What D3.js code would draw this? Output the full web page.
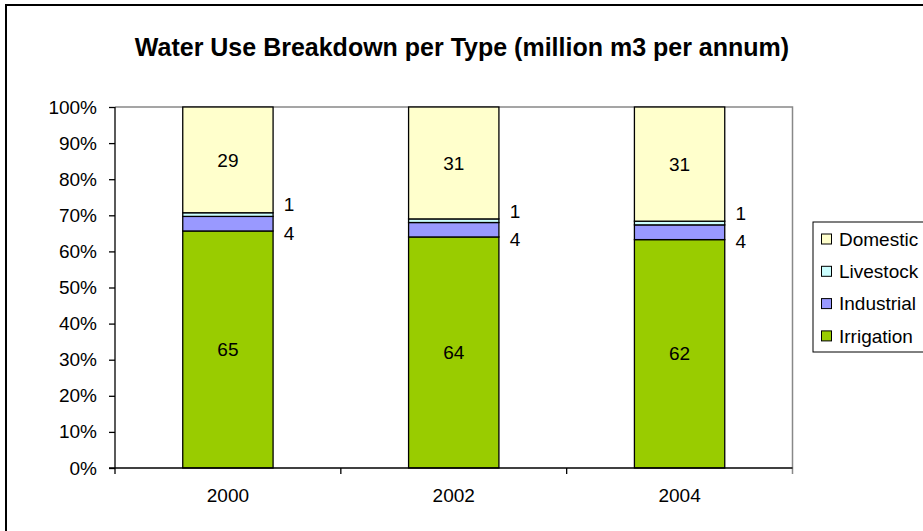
<!DOCTYPE html>
<html><head><meta charset="utf-8">
<script src="https://cdn.jsdelivr.net/npm/d3@7/dist/d3.min.js"></script>
<style>
html,body{margin:0;padding:0;background:#fff;}
text{font-family:"Liberation Sans",Arial,sans-serif;}
</style></head><body>
<script>
const years = ["2000", "2002", "2004"];
const seriesNames = ["Irrigation", "Industrial", "Livestock", "Domestic"];
const irrigation = [65, 64, 62];
const industrial = [4, 4, 4];
const livestock = [1, 1, 1];
const domestic = [29, 31, 31];
const colors = ["#99CC00", "#9999FF", "#CCFFFF", "#FFFFCC"];
const yTicks = [0, 0.1, 0.2, 0.3, 0.4, 0.5, 0.6, 0.7, 0.8, 0.9, 1.0];
const title = "Water Use Breakdown per Type (million m3 per annum)";

const W = 923, H = 531;
const svg = d3.select("body").append("svg").attr("width", W).attr("height", H);
svg.append("rect").attr("width", W).attr("height", H).attr("fill", "#fff");
// outer chart border
svg.append("rect").attr("x", 6).attr("y", 5).attr("width", W + 10).attr("height", H + 10)
  .attr("fill", "none").attr("stroke", "#000").attr("stroke-width", 2);

const L = 115, R = 792.5, T = 107, B = 468;
const x = d3.scaleBand().domain(years).range([L, R]).padding(0);
const y = d3.scaleLinear().domain([0, 1]).range([B, T]);

svg.append("text").attr("x", 462).attr("y", 56).attr("text-anchor", "middle")
  .attr("font-size", 25).attr("font-weight", "bold").text(title);

// plot border (gray top/right)
svg.append("path").attr("d", `M${L},${T}H${R}V${B + 6}`).attr("fill", "none")
  .attr("stroke", "#888").attr("stroke-width", 1.5);

const valuesBySeries = [irrigation, industrial, livestock, domestic];
const data = years.map((yr, i) => {
  const o = { year: yr };
  seriesNames.forEach((s, k) => o[s] = valuesBySeries[k][i]);
  return o;
});
const totals = data.map(d => seriesNames.reduce((a, s) => a + d[s], 0));
const norm = data.map((d, i) => {
  const o = { year: d.year };
  seriesNames.forEach(s => o[s] = d[s] / totals[i]);
  return o;
});
const stacked = d3.stack().keys(seriesNames)(norm);
const bw = x.bandwidth() * 0.4;
const bx = yr => x(yr) + (x.bandwidth() - bw) / 2;

stacked.forEach((layer, k) => {
  svg.append("g").selectAll("rect").data(layer).join("rect")
    .attr("x", d => bx(d.data.year))
    .attr("y", d => y(d[1]))
    .attr("width", bw)
    .attr("height", d => y(d[0]) - y(d[1]))
    .attr("fill", colors[k]).attr("stroke", "#000").attr("stroke-width", 1.3);
});

// labels
const fs = 19;
stacked.forEach((layer, k) => {
  const name = seriesNames[k];
  layer.forEach((d, i) => {
    let lx, ly;
    if (name === "Irrigation" || name === "Domestic") {
      lx = bx(d.data.year) + bw / 2; ly = (y(d[0]) + y(d[1])) / 2;
    } else if (name === "Industrial") {
      lx = bx(d.data.year) + bw + 16; ly = y(d[0]) + 2;
    } else {
      lx = bx(d.data.year) + bw + 16; ly = y(d[1]) - 8;
    }
    svg.append("text").attr("x", lx).attr("y", ly).attr("dy", "0.35em")
      .attr("text-anchor", "middle").attr("font-size", fs).text(valuesBySeries[k][i]);
  });
});

// y axis
const yAxis = svg.append("g").attr("transform", `translate(${L},0)`)
  .call(d3.axisLeft(y).tickValues(yTicks).tickFormat(d3.format(".0%")).tickSize(6).tickPadding(12));
yAxis.select(".domain").attr("stroke", "#000").attr("stroke-width", 1.3).attr("d", `M0,${T}V${B}`);
yAxis.selectAll("line").attr("stroke", "#000").attr("stroke-width", 1.3);
yAxis.selectAll("text").attr("font-size", fs).attr("fill", "#000")
  .style("font-family", "'Liberation Sans',Arial,sans-serif");

// x axis
const xAxis = svg.append("g").attr("transform", `translate(0,${B})`)
  .call(d3.axisBottom(x).tickSize(0).tickPadding(21));
xAxis.select(".domain").attr("stroke", "#000").attr("stroke-width", 1.3).attr("d", `M${L - 6},0H${R}`);
xAxis.selectAll("text").attr("font-size", fs).attr("fill", "#000")
  .style("font-family", "'Liberation Sans',Arial,sans-serif");
// category boundary ticks
const bounds = years.map(yr => x(yr)).concat([R]);
svg.append("g").selectAll("line").data(bounds.slice(0, 3)).join("line")
  .attr("x1", d => d).attr("x2", d => d).attr("y1", B).attr("y2", B + 6)
  .attr("stroke", "#000").attr("stroke-width", 1.3);

// legend
const lg = svg.append("g");
lg.append("rect").attr("x", 813).attr("y", 222).attr("width", 200).attr("height", 130)
  .attr("fill", "#fff").attr("stroke", "#000").attr("stroke-width", 1);
const legendOrder = ["Domestic", "Livestock", "Industrial", "Irrigation"];
legendOrder.forEach((s, i) => {
  const k = seriesNames.indexOf(s);
  const cy = 239 + i * 32.3;
  lg.append("rect").attr("x", 821.5).attr("y", cy - 5).attr("width", 10).attr("height", 10)
    .attr("fill", colors[k]).attr("stroke", "#000").attr("stroke-width", 1);
  lg.append("text").attr("x", 839).attr("y", cy).attr("dy", "0.35em")
    .attr("font-size", fs).text(s);
});
</script>
</body></html>
